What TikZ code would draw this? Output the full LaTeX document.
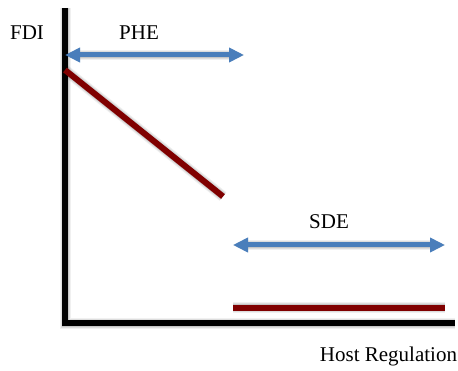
\documentclass[tikz,border=0pt]{standalone}
\usepackage{fontspec}
\setmainfont{Liberation Serif}
\usetikzlibrary{arrows.meta}
\definecolor{curvered}{RGB}{128,0,0}
\definecolor{spanblue}{RGB}{74,126,187}
\tikzset{
  lbl/.style={font=\fontsize{21}{24}\selectfont, inner sep=0pt, anchor=base},
  axisline/.style={line width=6pt, black, line cap=butt},
  curveline/.style={line width=6pt, curvered, line cap=butt},
  spanarrow/.style={line width=5pt, spanblue,
    {Triangle[width=14pt,length=15pt]}-{Triangle[width=14pt,length=15pt]}},
  softshadow/.style={draw=black, line cap=butt}
}
% soft drop shadow under a path
\newcommand{\dropshadow}[2]{%
  \foreach \ww/\op in {5/0.06,3/0.08,1/0.10}{%
    \draw[softshadow, opacity=\op, line width=#1+\ww pt, shift={(3,4)}] #2;}}
\begin{document}
\begin{tikzpicture}[x=1pt,y=-1pt]
\useasboundingbox (0,0) rectangle (458,371);

% anchor points
\coordinate (ytop) at (65,8);
\coordinate (origin) at (65,323.5);
\coordinate (xend) at (455,323.5);
\coordinate (d1) at (65,70);
\coordinate (d2) at (223,196.5);
\coordinate (f1) at (233,308);
\coordinate (f2) at (445,308);
\coordinate (p1) at (65,55);
\coordinate (p2) at (244,55);
\coordinate (s1) at (233,245);
\coordinate (s2) at (445,245);

% shadows
\dropshadow{6pt}{(ytop) -- (origin) -- (xend)}
\dropshadow{6pt}{(d1) -- (d2)}
\dropshadow{6pt}{(f1) -- (f2)}
\dropshadow{5pt}{([xshift=14pt]p1) -- ([xshift=-14pt]p2)}
\dropshadow{5pt}{([xshift=14pt]s1) -- ([xshift=-14pt]s2)}
\begin{scope}[opacity=0.12, shift={(3,4)}]
  \fill[black] (p1) -- ++(15,-7) -- ++(0,14) -- cycle;
  \fill[black] (p2) -- ++(-15,-7) -- ++(0,14) -- cycle;
  \fill[black] (s1) -- ++(15,-7) -- ++(0,14) -- cycle;
  \fill[black] (s2) -- ++(-15,-7) -- ++(0,14) -- cycle;
\end{scope}

% axes
\draw[axisline] (ytop) -- (origin) -- (xend);

% curves
\draw[curveline] (d1) -- (d2);
\draw[curveline] (f1) -- (f2);

% spans
\draw[spanarrow] (p1) -- (p2);
\draw[spanarrow] (s1) -- (s2);

% labels
\node[lbl] (fdi) at (27,40) {FDI};
\node[lbl] (phe) at (139,40) {PHE};
\node[lbl] (sde) at (329,229) {SDE};
\node[lbl] (host) at (388.5,362) {Host Regulation};
\end{tikzpicture}
\end{document}
